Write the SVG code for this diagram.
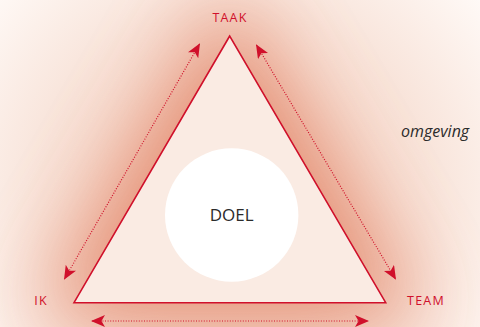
<svg xmlns="http://www.w3.org/2000/svg" width="480" height="327" viewBox="0 0 480 327">
  <defs>
    <filter id="glow" x="-60%" y="-60%" width="220%" height="220%">
      <feGaussianBlur stdDeviation="42"/>
    </filter>
    <radialGradient id="wash" cx="235" cy="200" r="320" gradientUnits="userSpaceOnUse">
      <stop offset="0" stop-color="#F2CCBB"/>
      <stop offset="0.6" stop-color="#F8E3D9"/>
      <stop offset="1" stop-color="#FFFAF7"/>
    </radialGradient>
    <marker id="ah" viewBox="0 0 14 12" refX="13" refY="6" markerWidth="14" markerHeight="12" markerUnits="userSpaceOnUse" orient="auto-start-reverse">
      <path d="M0,0 L14,6 L0,12 L3.5,6 Z" fill="#D0102B"/>
    </marker>
    <style>
      .lbl { font-family: "Open Sans", "Liberation Sans", sans-serif; font-size: 12.5px; fill: #D0102B; letter-spacing: 1.2px; }
      .conn { stroke: #D0102B; stroke-width: 1.2; stroke-dasharray: 1 1.6; fill: none; marker-start: url(#ah); marker-end: url(#ah); }
    </style>
  </defs>
  <rect width="480" height="327" fill="url(#wash)"/>
  <polygon points="229,-10 35,322 425,322" fill="#E3876A" opacity="0.9" filter="url(#glow)"/>
  <g id="triangle">
    <polygon points="229.7,36 74,302.7 385.7,302.7" fill="#FAEBE3" stroke="#D0102B" stroke-width="1.6" stroke-linejoin="miter"/>
  </g>
  <g id="doel">
    <circle cx="231.7" cy="215" r="66.7" fill="#FFFFFF"/>
    <text x="231.7" y="221" text-anchor="middle" font-family="'Open Sans', 'Liberation Sans', sans-serif" font-size="17" fill="#2B2B2B">DOEL</text>
  </g>
  <g id="taak"><text class="lbl" x="230" y="22" text-anchor="middle">TAAK</text></g>
  <g id="ik"><text class="lbl" x="41" y="305" text-anchor="middle">IK</text></g>
  <g id="team"><text class="lbl" x="426" y="305" text-anchor="middle">TEAM</text></g>
  <g id="omgeving"><text x="401" y="137" font-family="'Open Sans', 'Liberation Sans', sans-serif" font-size="16" font-style="italic" fill="#2B2B2B">omgeving</text></g>
  <g id="connectors">
    <line class="conn" x1="199.5" y1="44" x2="64.5" y2="279"/>
    <line class="conn" x1="256.5" y1="45" x2="395.5" y2="279"/>
    <line class="conn" x1="92" y1="321" x2="368" y2="321"/>
  </g>
</svg>
